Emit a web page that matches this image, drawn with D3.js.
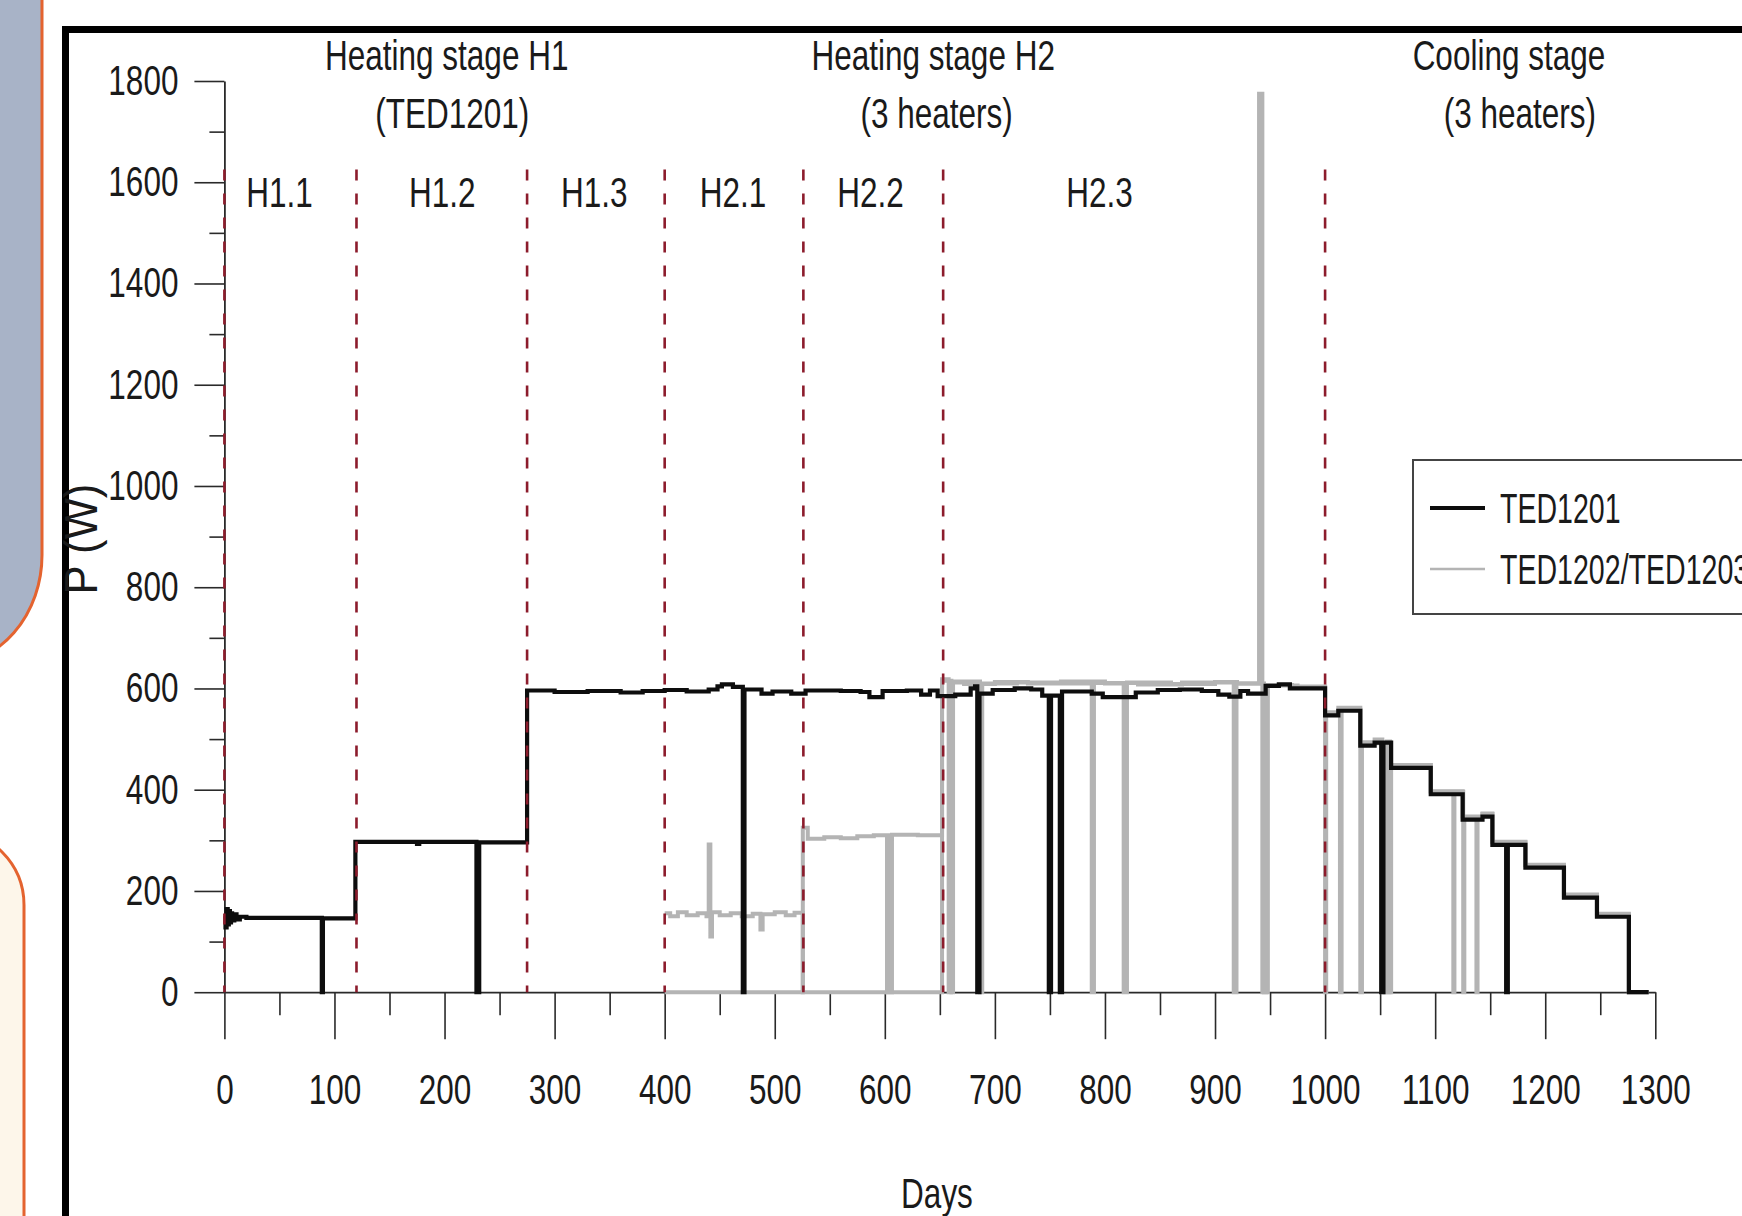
<!DOCTYPE html>
<html>
<head>
<meta charset="utf-8">
<script src="https://cdn.jsdelivr.net/npm/d3@7"></script>
<style>
  html, body { margin: 0; padding: 0; background: #fff; }
  svg { display: block; }
</style>
</head>
<body>
<div id="chart"></div>
<script>
// Heater power: [day, power in W]
var ted1201 = [
  [0, 150], [1, 128], [2, 164], [3, 134], [4, 160], [5, 138], [6, 156], [7, 142], [9, 154], [11, 144], [14, 149], [20, 147],
  [88.5, 0], [89.5, 146],
  [119, 297], [175, 293], [177, 297], [229, 0], [231.5, 296],
  [275, 596], [300, 593], [330, 595], [360, 592], [380, 595], [400, 597], [420, 594], [440, 598], [448, 604], [452, 608], [462, 603],
  [471, 0], [472.5, 598], [488, 590], [498, 594], [515, 590], [528, 596], [560, 595], [578, 593], [586, 583], [598, 595],
  [620, 596], [633, 588], [641, 596], [648, 585], [664, 588], [678, 600], [682, 604],
  [684, 0], [686, 590], [698, 597], [718, 600], [733, 598], [743, 586],
  [749, 0], [751, 586], [759, 0], [761, 594], [788, 590], [798, 583], [828, 592], [848, 597], [868, 598], [888, 595],
  [903, 588], [913, 584], [923, 595], [930, 590], [946, 605], [958, 608], [968, 600],
  [1000, 547], [1012, 556], [1032, 487], [1045, 493],
  [1051, 0], [1053, 493], [1060, 443], [1096, 391], [1125, 341], [1143, 347], [1152, 291],
  [1164.5, 0], [1166, 291], [1182, 246], [1217, 187], [1247, 149], [1276, 0], [1294, 0]
];

var ted1202 = [
  [400, 156], [405, 150], [412, 158], [420, 152], [430, 156], [438, 150], [440, 292], [441.5, 110], [443, 158], [450, 152],
  [460, 156], [470, 150], [480, 155], [487, 124], [489, 154], [500, 158], [510, 152], [518, 157],
  [525.5, 0],
  [652, 618], [658, 0], [660, 612], [672, 609], [700, 613], [730, 610], [788, 0], [790, 611], [830, 608], [870, 612],
  [917, 0], [919.5, 610], [940, 1775], [943, 0], [946.5, 607], [970, 604],
  [1000, 0], [1001, 553], [1012, 562], [1032, 0], [1033.5, 494], [1045, 499], [1052, 0], [1058.5, 449],
  [1096, 397], [1116.5, 0], [1117.5, 397], [1125, 347], [1137.5, 0], [1138.5, 347], [1143, 353], [1152, 297],
  [1182, 252], [1217, 193], [1247, 155], [1276, 0], [1294, 0]
];

var ted1203 = [
  [400, 0],
  [525.5, 325], [530, 303], [545, 306], [560, 304], [575, 308], [590, 310], [602, 0], [603.5, 310], [605, 0], [606.5, 311], [630, 310],
  [652, 615], [660.5, 0], [662, 614], [686.5, 0], [688.5, 610], [720, 612], [760, 614], [800, 610], [817, 0], [820, 612],
  [860, 609], [900, 613], [920, 610], [944.5, 0], [948, 606], [975, 603],
  [1000, 548], [1013.5, 0], [1015, 558], [1032, 492], [1054.5, 0], [1056, 495], [1059, 0], [1060, 449],
  [1096, 396], [1125.5, 0], [1126.5, 346], [1143, 352], [1152, 296], [1182, 251], [1217, 192], [1247, 154], [1276, 0], [1294, 0]
];

// Stage boundaries (days) and labels
var phaseBounds = [0, 120, 275, 400, 526, 653, 1000];
var phaseNames = ['H1.1', 'H1.2', 'H1.3', 'H2.1', 'H2.2', 'H2.3'];
var phaseLabelDays = [50, 198, 336, 462, 587, 795];
var stageTitles = [['Heating stage H1', '(TED1201)'], ['Heating stage H2', '(3 heaters)'], ['Cooling stage', '(3 heaters)']];
var stageTitleDays = [[202, 207], [644, 647], [1167, 1177]];

var xTicks = d3.range(0, 1301, 100);
var xMinorTicks = d3.range(50, 1300, 100);
var yTicks = d3.range(0, 1801, 200);
var yMinorTicks = d3.range(100, 1800, 200);

var legendNames = ['TED1201', 'TED1202/TED1203'];

var width = 1742, height = 1216;
var FONT = '"Liberation Sans", Arial, sans-serif';
var SQ = 0.75;   // the picture's text is horizontally condensed
var INK = '#1a1a1a';

var svg = d3.select('#chart').append('svg')
            .attr('width', width)
            .attr('height', height);

svg.append('rect').attr('width', width).attr('height', height).attr('fill', '#fff');

// slide decorations on the left
svg.append('rect')
   .attr('x', -150).attr('y', -150)
   .attr('width', 192).attr('height', 815)
   .attr('rx', 110).attr('ry', 110)
   .attr('fill', '#a8b3c7')
   .attr('stroke', '#e4632f').attr('stroke-width', 3);
svg.append('rect')
   .attr('x', -150).attr('y', 830)
   .attr('width', 174).attr('height', 600)
   .attr('rx', 75).attr('ry', 75)
   .attr('fill', '#fdf6ea')
   .attr('stroke', '#e4632f').attr('stroke-width', 3);

// thick frame round the figure
svg.append('rect')
   .attr('x', 65.5).attr('y', 29.5)
   .attr('width', 1800).attr('height', 1400)
   .attr('fill', '#fff')
   .attr('stroke', '#000').attr('stroke-width', 7);

var x = d3.scaleLinear().domain([0, 1300]).range([224.4, 1655.3]);
var y = d3.scaleLinear().domain([0, 1800]).range([992.2, 81]);

function squeeze(sel, k) {
  sel.each(function() {
    var t = d3.select(this);
    var tx = +t.attr('x') || 0, ty = +t.attr('y') || 0;
    t.attr('x', null).attr('y', null)
     .attr('transform', 'translate(' + tx + ',' + ty + ') scale(' + (k || SQ) + ',1)');
  });
}

function styleAxis(g) {
  g.select('.domain').attr('stroke', '#2a2a2a').attr('stroke-width', 1.8);
  g.selectAll('.tick line').attr('stroke', '#2a2a2a').attr('stroke-width', 1.6);
  g.selectAll('.tick text')
   .attr('fill', INK)
   .style('font-family', FONT)
   .style('font-size', '42px');
}

// axes
var gx = svg.append('g').attr('transform', 'translate(0,' + y(0) + ')');
gx.call(d3.axisBottom(x).tickValues(xTicks).tickSize(47).tickPadding(35).tickSizeOuter(0).tickFormat(d3.format('d')));
styleAxis(gx);
gx.selectAll('.tick text').attr('transform', 'scale(' + SQ + ',1)');

var gxm = svg.append('g').attr('transform', 'translate(0,' + y(0) + ')');
gxm.call(d3.axisBottom(x).tickValues(xMinorTicks).tickSize(23).tickFormat(''));
styleAxis(gxm);
gxm.select('.domain').remove();

var gy = svg.append('g').attr('transform', 'translate(' + x(0) + ',0)');
gy.call(d3.axisLeft(y).tickValues(yTicks).tickSize(30).tickPadding(16).tickSizeOuter(0).tickFormat(d3.format('d')));
styleAxis(gy);
gy.selectAll('.tick text')
  .attr('x', -46 / SQ)
  .attr('transform', 'scale(' + SQ + ',1)');

var gym = svg.append('g').attr('transform', 'translate(' + x(0) + ',0)');
gym.call(d3.axisLeft(y).tickValues(yMinorTicks).tickSize(15).tickFormat(''));
styleAxis(gym);
gym.select('.domain').remove();

// series
var line = d3.line()
             .x(function(d) { return x(d[0]); })
             .y(function(d) { return y(d[1]); })
             .curve(d3.curveStepAfter);

var seriesGroup = svg.append('g').attr('fill', 'none').attr('stroke-linejoin', 'miter');
[ted1203, ted1202].forEach(function(s) {
  seriesGroup.append('path')
             .attr('d', line(s))
             .attr('stroke', '#b4b4b4')
             .attr('stroke-width', 4);
});
seriesGroup.append('path')
           .attr('d', line(ted1201))
           .attr('stroke', '#0d0d0d')
           .attr('stroke-width', 4.2);

// stage boundaries
svg.append('g').selectAll('line').data(phaseBounds).enter()
   .append('line')
   .attr('x1', function(d) { return x(d); })
   .attr('x2', function(d) { return x(d); })
   .attr('y1', y(1625))
   .attr('y2', y(0))
   .attr('stroke', '#8c1c2c')
   .attr('stroke-width', 2.6)
   .attr('stroke-dasharray', '11,13');

// labels
var labels = svg.append('g')
                .attr('fill', INK)
                .style('font-family', FONT)
                .style('font-size', '42px')
                .attr('text-anchor', 'middle');

labels.selectAll('text.phase').data(phaseNames).enter()
      .append('text')
      .attr('class', 'phase')
      .attr('x', function(d, i) { return x(phaseLabelDays[i]); })
      .attr('y', 207)
      .text(function(d) { return d; });

stageTitles.forEach(function(t, i) {
  labels.append('text').attr('x', x(stageTitleDays[i][0])).attr('y', 70).text(t[0]);
  labels.append('text').attr('x', x(stageTitleDays[i][1])).attr('y', 128).text(t[1]);
});

labels.append('text').attr('x', 937).attr('y', 1208).text('Days');
squeeze(labels.selectAll('text'));

labels.append('text')
      .attr('transform', 'translate(97,539) rotate(-90) scale(0.95,1)')
      .style('font-size', '46px')
      .text('P (W)');

// legend
var legend = svg.append('g');
legend.append('rect')
      .attr('x', 1413).attr('y', 460)
      .attr('width', 400).attr('height', 154)
      .attr('fill', '#fff')
      .attr('stroke', '#444').attr('stroke-width', 2);

var legendColors = ['#0d0d0d', '#b4b4b4'];
var legendWidths = [3.8, 2.6];
legendNames.forEach(function(name, i) {
  var ly = 508 + i * 61;
  legend.append('line')
        .attr('x1', 1430).attr('x2', 1485)
        .attr('y1', ly).attr('y2', ly)
        .attr('stroke', legendColors[i])
        .attr('stroke-width', legendWidths[i]);
  legend.append('text')
        .attr('x', 1500).attr('y', ly + 15)
        .attr('fill', INK)
        .style('font-family', FONT)
        .style('font-size', '42px')
        .text(name);
});
squeeze(legend.selectAll('text'), 0.68);
</script>
</body>
</html>
